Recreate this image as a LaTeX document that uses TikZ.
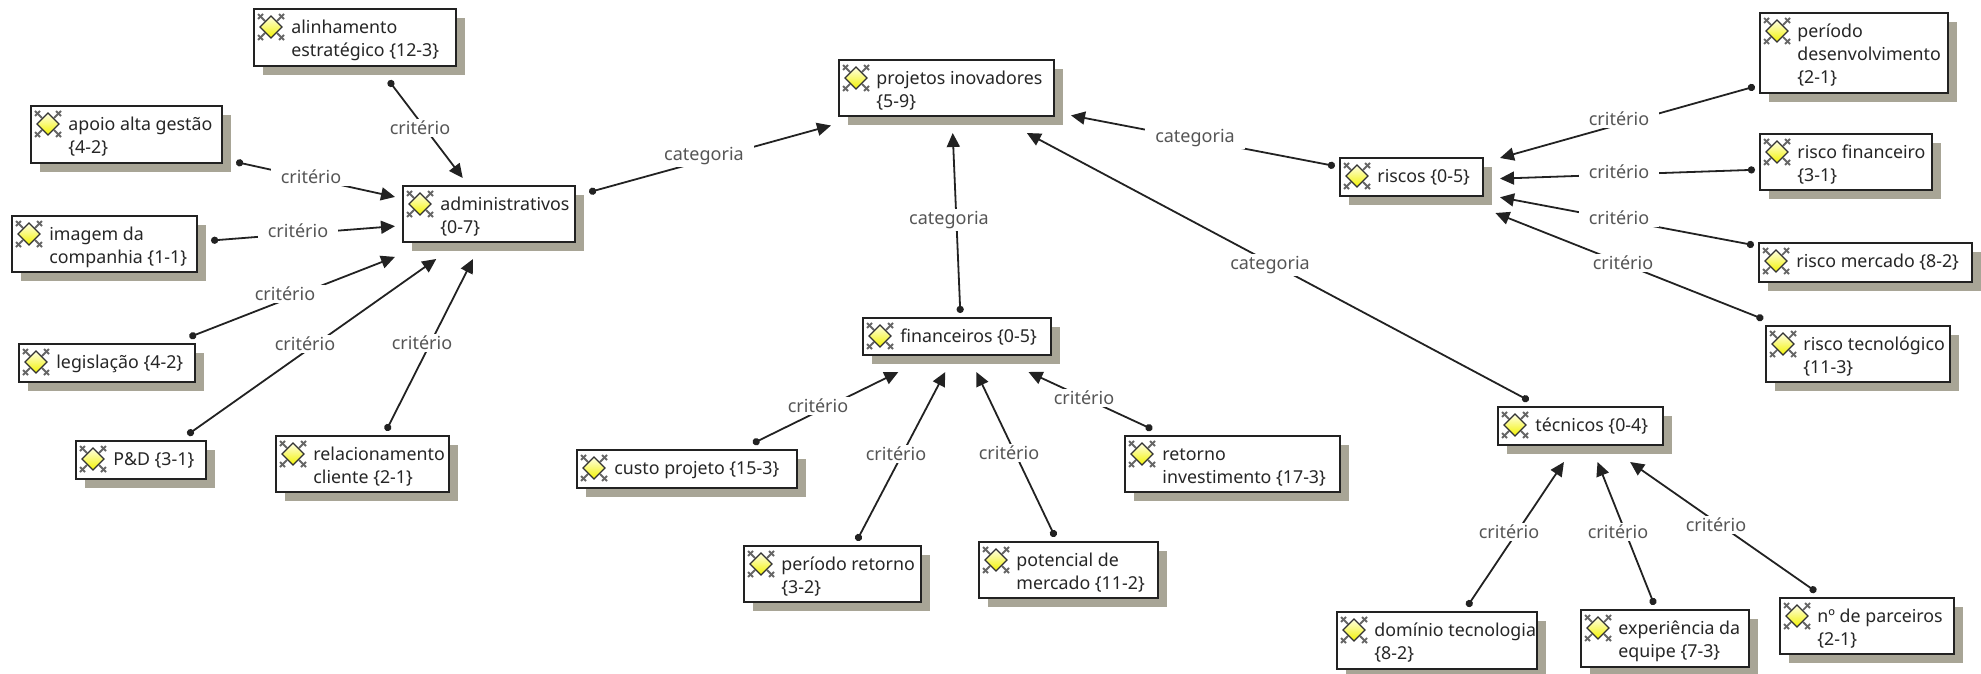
\documentclass[tikz,border=0pt]{standalone}
\usepackage{fontspec}
\setmainfont{Noto Sans}
\usetikzlibrary{arrows.meta,fit}

\definecolor{corsombra}{HTML}{A8A596}
\definecolor{corlinha}{HTML}{222222}
\definecolor{corrotulo}{HTML}{555555}

\tikzset{
    limite/.style={inner sep=0pt,outer sep=4pt},
    sombra/.style={fill=corsombra},
    caixa/.style={draw=corlinha,line width=1pt,fill=white},
    texto/.style={anchor=north west,inner sep=0pt,align=left,text=black!85,font=\fontsize{8.9}{11.5}\selectfont},
    liga/.style={draw=corlinha,line width=0.9pt,{Circle[length=3.6pt]}-{Triangle[length=7pt,width=6.5pt]},shorten <=-1.5pt},
    rotulo/.style={fill=white,inner xsep=5pt,inner ysep=1pt,text=corrotulo,font=\fontsize{9}{11.5}\selectfont},
    pics/icone/.style={code={
        \foreach \sx/\sy in {1/1,1/-1,-1/1,-1/-1}{
            \draw[black!60,line width=0.9pt] (\sx*8,\sy*13)--(\sx*13,\sy*8);
            \draw[black!60,line width=0.9pt] (\sx*6,\sy*6)--(\sx*13,\sy*13);
        }
        \path[draw=black!80,line width=0.6pt,top color=yellow!10,bottom color=yellow!95!black]
            (0,-11)--(11,0)--(0,11)--(-11,0)--cycle;
    }}
}

% nome, x1, y1, x2, y2, texto
\newcommand{\conceito}[6]{%
    \node[limite,fit={(#2,#3) (#4+9,#5+9)}] (#1) {};
    \fill[sombra] (#2+9,#3+9) rectangle (#4+9,#5+9);
    \draw[caixa] (#2,#3) rectangle (#4,#5);
    \pic at (#2+17,#3+18) {icone};
    \node[texto] (#1t) at (#2+37,#3+6) {\rule{0pt}{9pt}#6};
}

\begin{document}
\begin{tikzpicture}[x=0.5pt,y=-0.5pt]

    \useasboundingbox (0,0) rectangle (1981,674);

    % conceitos
    \conceito{alinh}{254}{9}{456}{66}{alinhamento\\estratégico \{12-3\}}
    \conceito{apoio}{31}{106}{222}{163}{apoio alta gestão\\\{4-2\}}
    \conceito{imagem}{12}{216}{197}{272}{imagem da\\companhia \{1-1\}}
    \conceito{legis}{19}{344}{195}{382}{legislação \{4-2\}}
    \conceito{ped}{76}{441}{206}{479}{P\&D \{3-1\}}
    \conceito{relac}{276}{436}{449}{492}{relacionamento\\cliente \{2-1\}}
    \conceito{admin}{403}{186}{575}{242}{administrativos\\\{0-7\}}
    \conceito{proj}{839}{60}{1054}{116}{projetos inovadores\\\{5-9\}}
    \conceito{finan}{863}{318}{1051}{355}{financeiros \{0-5\}}
    \conceito{custo}{577}{450}{797}{488}{custo projeto \{15-3\}}
    \conceito{perret}{744}{546}{921}{602}{período retorno\\\{3-2\}}
    \conceito{poten}{979}{542}{1158}{598}{potencial de\\mercado \{11-2\}}
    \conceito{retor}{1125}{436}{1340}{492}{retorno\\investimento \{17-3\}}
    \conceito{riscos}{1340}{158}{1483}{196}{riscos \{0-5\}}
    \conceito{perdes}{1760}{13}{1948}{93}{período\\desenvolvimento\\\{2-1\}}
    \conceito{riscfin}{1760}{134}{1932}{190}{risco financeiro\\\{3-1\}}
    \conceito{riscmer}{1759}{243}{1972}{282}{risco mercado \{8-2\}}
    \conceito{risctec}{1766}{326}{1950}{382}{risco tecnológico\\\{11-3\}}
    \conceito{tecn}{1498}{407}{1663}{445}{técnicos \{0-4\}}
    \conceito{domin}{1337}{612}{1537}{669}{domínio tecnologia\\\{8-2\}}
    \conceito{exper}{1581}{610}{1749}{667}{experiência da\\equipe \{7-3\}}
    \conceito{parc}{1780}{598}{1954}{654}{nº de parceiros\\\{2-1\}}

    % administrativos
    \draw[liga] (alinh) -- (admin) node[rotulo] (r1) at (420,128) {critério};
    \draw[liga] (apoio) -- (admin) node[rotulo] (r2) at (311,177) {critério};
    \draw[liga] (imagem) -- (admin) node[rotulo] (r3) at (298,231) {critério};
    \draw[liga] (legis) -- (admin) node[rotulo] (r4) at (285,294) {critério};
    \draw[liga] (ped) -- (admin) node[rotulo] (r5) at (305,344) {critério};
    \draw[liga] (relac) -- (admin) node[rotulo] (r6) at (422,343) {critério};

    % categorias
    \draw[liga] (admin) -- (proj) node[rotulo] (r7) at (704,156) {categoria};
    \draw[liga] (finan) -- (proj) node[rotulo] (r8) at (949,220) {categoria};
    \draw[liga] (riscos) -- (proj) node[rotulo] (r9) at (1195,138) {categoria};
    \draw[liga] (tecn) -- (proj) node[rotulo] (r10) at (1270,265) {categoria};

    % financeiros
    \draw[liga] (custo) -- (finan) node[rotulo] (r11) at (818,406) {critério};
    \draw[liga] (perret) -- (finan) node[rotulo] (r12) at (896,454) {critério};
    \draw[liga] (poten) -- (finan) node[rotulo] (r13) at (1009,453) {critério};
    \draw[liga] (retor) -- (finan) node[rotulo] (r14) at (1084,398) {critério};

    % riscos
    \draw[liga] (perdes) -- (riscos) node[rotulo] (r15) at (1619,119) {critério};
    \draw[liga] (riscfin) -- (riscos) node[rotulo] (r16) at (1619,172) {critério};
    \draw[liga] (riscmer) -- (riscos) node[rotulo] (r17) at (1619,218) {critério};
    \draw[liga] (risctec) -- (riscos) node[rotulo] (r18) at (1623,263) {critério};

    % tecnicos
    \draw[liga] (domin) -- (tecn) node[rotulo] (r19) at (1509,532) {critério};
    \draw[liga] (exper) -- (tecn) node[rotulo] (r20) at (1618,532) {critério};
    \draw[liga] (parc) -- (tecn) node[rotulo] (r21) at (1716,525) {critério};

\end{tikzpicture}
\end{document}
